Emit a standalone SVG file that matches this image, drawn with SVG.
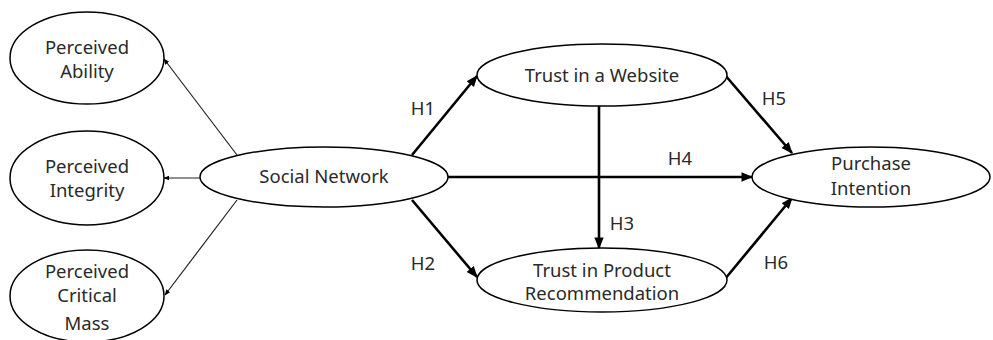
<svg xmlns="http://www.w3.org/2000/svg" width="993" height="340" viewBox="0 0 993 340">
<style>
.n{fill:#fff;stroke:#000;stroke-width:1.5}
text{font-family:"Noto Sans","Liberation Sans",sans-serif;font-size:18.5px;fill:#2a2a2a;text-anchor:middle}
.thin{stroke:#222;stroke-width:1.2;fill:none}
.thick{stroke:#000;stroke-width:2.6;fill:none}
</style>
<defs>
<marker id="a1" viewBox="0 0 10 10" refX="9" refY="5" markerWidth="5" markerHeight="5" orient="auto" markerUnits="strokeWidth"><path d="M0,1L10,5L0,9z" fill="#000"/></marker>
<marker id="a2" viewBox="0 0 10 10" refX="9" refY="5" markerWidth="4.5" markerHeight="4.5" orient="auto" markerUnits="strokeWidth"><path d="M0,1L10,5L0,9z" fill="#000"/></marker>
</defs>
<rect width="993" height="340" fill="#fff"/>
<g id="connectors">
<line class="thin" x1="237" y1="155" x2="164" y2="59" marker-end="url(#a1)"/>
<line class="thin" x1="200" y1="178" x2="164" y2="178" marker-end="url(#a1)"/>
<line class="thin" x1="237" y1="200" x2="165" y2="295" marker-end="url(#a1)"/>
<line class="thick" x1="412" y1="155" x2="477" y2="76" marker-end="url(#a2)"/>
<line class="thick" x1="412" y1="200" x2="477" y2="277" marker-end="url(#a2)"/>
<line class="thick" x1="448" y1="177" x2="752" y2="177" marker-end="url(#a2)"/>
<line class="thick" x1="599" y1="106" x2="599" y2="248" marker-end="url(#a2)"/>
<line class="thick" x1="725" y1="75" x2="792" y2="153" marker-end="url(#a2)"/>
<line class="thick" x1="725" y1="279" x2="792" y2="198" marker-end="url(#a2)"/>
<text x="423" y="115">H1</text>
<text x="423" y="270">H2</text>
<text x="622" y="230">H3</text>
<text x="680" y="165">H4</text>
<text x="774" y="105">H5</text>
<text x="776" y="269">H6</text>
</g>
<g id="perceived-ability"><ellipse class="n" cx="87" cy="58" rx="77" ry="46"/><text x="87" y="54">Perceived</text><text x="87" y="78">Ability</text></g>
<g id="perceived-integrity"><ellipse class="n" cx="87" cy="178" rx="77" ry="47"/><text x="87" y="173">Perceived</text><text x="87" y="197">Integrity</text></g>
<g id="perceived-critical-mass"><ellipse class="n" cx="87" cy="296" rx="77" ry="46"/><text x="87" y="278">Perceived</text><text x="87" y="302">Critical</text><text x="87" y="330">Mass</text></g>
<g id="social-network"><ellipse class="n" cx="324" cy="177" rx="124" ry="30"/><text x="324" y="183">Social Network</text></g>
<g id="trust-website"><ellipse class="n" cx="602" cy="75" rx="125" ry="31"/><text x="602" y="82">Trust in a Website</text></g>
<g id="trust-product"><ellipse class="n" cx="602" cy="280" rx="125" ry="32"/><text x="602" y="277">Trust in Product</text><text x="602" y="300">Recommendation</text></g>
<g id="purchase-intention"><ellipse class="n" cx="871" cy="177" rx="119" ry="30"/><text x="871" y="170">Purchase</text><text x="871" y="195">Intention</text></g>
</svg>
